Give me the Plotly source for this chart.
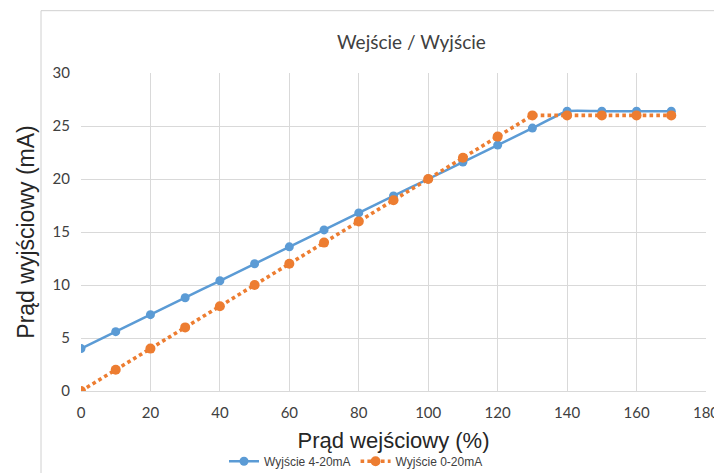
import plotly.graph_objects as go

x_in = [0, 10, 20, 30, 40, 50, 60, 70, 80, 90, 100, 110, 120, 130, 140, 150, 160, 170]
out_4_20 = [4, 5.6, 7.2, 8.8, 10.4, 12, 13.6, 15.2, 16.8, 18.4, 20, 21.6, 23.2, 24.8, 26.4, 26.4, 26.4, 26.4]
out_0_20 = [0, 2, 4, 6, 8, 10, 12, 14, 16, 18, 20, 22, 24, 26, 26, 26, 26, 26]

fig = go.Figure()
fig.add_trace(go.Scatter(
    x=x_in, y=out_4_20, name="Wyjście 4-20mA", mode="lines+markers",
    line=dict(color="#5B9BD5", width=2.5, shape="spline", smoothing=0.4),
    marker=dict(color="#5B9BD5", size=9),
))
fig.add_trace(go.Scatter(
    x=x_in, y=out_0_20, name="Wyjście 0-20mA", mode="lines+markers",
    line=dict(color="#ED7D31", width=3.6, dash="3.6px,3.2px"),
    marker=dict(color="#ED7D31", size=10),
))

fig.update_layout(
    width=714, height=465,
    margin=dict(l=73, r=16, t=65, b=82, autoexpand=False),
    paper_bgcolor="white", plot_bgcolor="white",
    title=dict(text="Wejście / Wyjście", x=0.565, xanchor="center", y=0.927, yanchor="middle",
               font=dict(family="Lato, Open Sans, sans-serif", size=19, color="#404040")),
    xaxis=dict(range=[0, 180], dtick=20, tick0=0, showgrid=True, gridcolor="#d9d9d9", gridwidth=1,
               zeroline=False, showline=True, linecolor="#d9d9d9", ticks="", automargin=False,
               ticklabelstandoff=8,
               tickfont=dict(family="Lato, Open Sans, sans-serif", size=15, color="#404040"),
               title=dict(text="Prąd wejściowy (%)", standoff=12,
                          font=dict(family="Liberation Sans, Arial, sans-serif", size=22, color="#262626"))),
    yaxis=dict(range=[0, 30], dtick=5, showgrid=True, gridcolor="#d9d9d9", gridwidth=1,
               zeroline=False, showline=False, ticks="", ticklabelstandoff=10, automargin=False,
               tickfont=dict(family="Lato, Open Sans, sans-serif", size=15, color="#404040"),
               title=dict(text="Prąd wyjściowy (mA)", standoff=11,
                          font=dict(family="Liberation Sans, Arial, sans-serif", size=23, color="#262626"))),
    legend=dict(orientation="h", x=0.44, xanchor="center", y=-0.221, yanchor="middle",
                font=dict(family="Liberation Sans, Arial, sans-serif", size=12, color="#404040"),
                itemwidth=30, traceorder="normal"),
    showlegend=True,
)

fig.add_shape(type="rect", xref="paper", yref="paper", x0=-0.064, x1=1.1, y0=-0.3, y1=1.196,
              line=dict(color="#d0d0d0", width=1), fillcolor="rgba(0,0,0,0)", layer="below")

fig.write_html("out.html")
